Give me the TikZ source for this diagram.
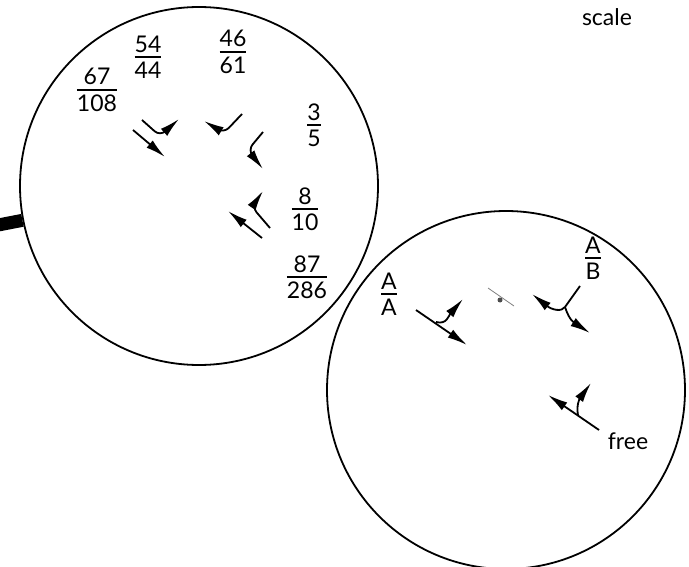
\documentclass[tikz,border=0pt]{standalone}
\usepackage{amsmath}
\usepackage{fontspec}
\setmainfont{Lato}
\usetikzlibrary{arrows.meta, positioning}

\newcommand{\ratio}[2]{$\genfrac{}{}{1.3pt}{1}
  {\mbox{\rule[-3pt]{0pt}{0pt}#1}}{\mbox{\rule{0pt}{19.5pt}#2}}$}

\begin{document}
\begin{tikzpicture}[
    x = 1pt, y = -1pt,
    lens/.style  = {draw, circle, line width = 1.8pt, minimum size = 358pt, inner sep = 0pt},
    handle/.style = {line width = 13pt},
    track/.style = {line width = 1.8pt, -{Latex[length = 20pt, width = 9.5pt]}},
    kink/.style  = {track, rounded corners = 7pt},
    tag/.style   = {font = \fontsize{23}{27}\selectfont, inner sep = 0pt},
  ]
  \useasboundingbox (0,0) rectangle (689,567);

  \node [lens] (left)  at (199,186) {};
  \node [lens] (right) at (506,390) {};
  \draw [handle] (left.191) to ++(191:40pt);

  \node [tag] (scale) at (607,17)  {scale};

  \node [tag] (r67)  at (97,90)   {\ratio{67}{108}};
  \node [tag] (r54)  at (148,57)  {\ratio{54}{44}};
  \node [tag] (r46)  at (233,52)  {\ratio{46}{61}};
  \node [tag] (r3)   at (314,125) {\ratio{3}{5}};
  \node [tag] (r8)   at (305,209) {\ratio{8}{10}};
  \node [tag] (r87)  at (307,277) {\ratio{87}{286}};

  \draw [track] (133,130) to (165,157);
  \draw [kink] (142,120) -- (160,136) -- (179,119);
  \draw [kink] (242,114) -- (224,133) -- (204,121);
  \draw [kink] (263,132) -- (248,150) -- (263,169);
  \draw [kink] (270,228) -- (252,207) -- (263,191);
  \draw [track] (262,238) to (228,211);

  \node [tag] (rAA)  at (389,294) {\ratio{A}{A}};
  \node [tag] (rAB)  at (593,258) {\ratio{A}{B}};
  \node [tag] (free) at (628,441) {free};

  \draw [track] (416,310) to (467,345);
  \draw [track] (436,322) .. controls (447,325) and (449,315) .. (463,299);

  \draw [gray, line width = 0.8pt] (488,288) -- (514,306);
  \fill [gray!60!black] (500,300) circle (2.5pt);

  \coordinate (fork) at (565,307);
  \draw [line width = 1.8pt] (580,286) to (fork);
  \draw [track] (fork) .. controls (562,312) and (552,310) .. (532,294);
  \draw [track] (fork) .. controls (567,313) and (570,320) .. (590,333);

  \draw [track] (599,430) to (548,395);
  \draw [track] (578,415) .. controls (576,405) and (580,398) .. (591,383);
\end{tikzpicture}
\end{document}
